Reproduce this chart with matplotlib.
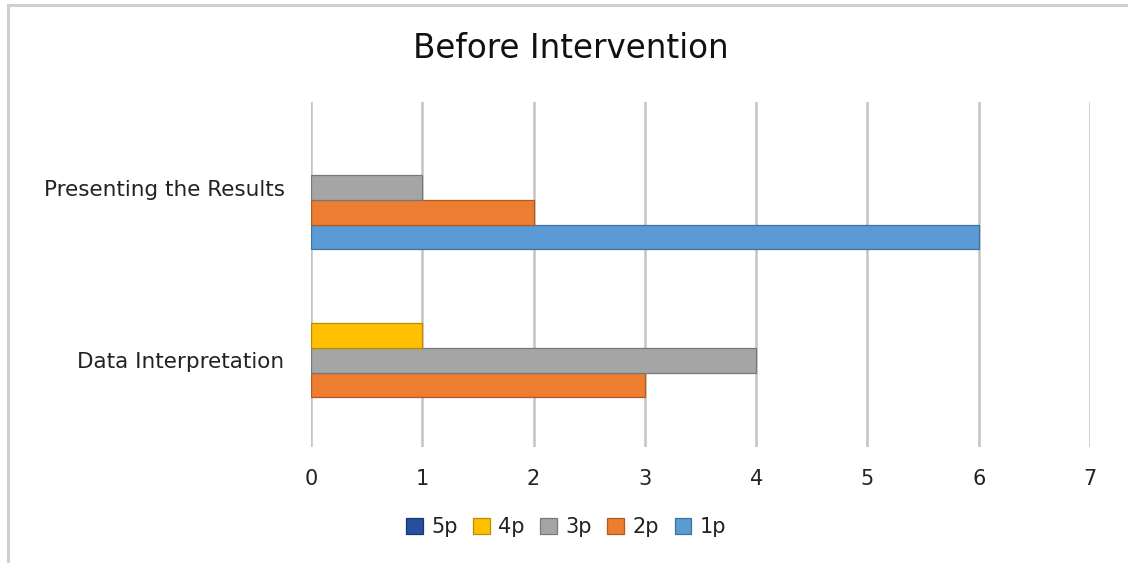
import matplotlib
matplotlib.use("Agg")
import matplotlib.pyplot as plt
from matplotlib.patches import Rectangle, Patch
import numpy as np

categories = ["Data Interpretation", "Presenting the Results"]
series_names = ["1p", "2p", "3p", "4p", "5p"]
values_1p = [0, 6]
values_2p = [3, 2]
values_3p = [4, 1]
values_4p = [1, 0]
values_5p = [0, 0]
x_ticks = [0, 1, 2, 3, 4, 5, 6, 7]

series_values = [values_1p, values_2p, values_3p, values_4p, values_5p]
fills = ["#5B9BD5", "#ED7D31", "#A5A5A5", "#FFC000", "#264FA0"]
edges = ["#41719C", "#AE5A21", "#787878", "#BC8C00", "#1A3670"]

plt.rcParams["font.family"] = ["DejaVu Sans"]

fig = plt.figure(figsize=(11.28, 5.63), dpi=100)
fig.patches.append(Rectangle((8 / 1128, -0.05), 1.2, 1 - 5 / 563 + 0.05,
                             transform=fig.transFigure, fill=False,
                             edgecolor="#D0D0D0", linewidth=2.2))

ax = fig.add_axes([311 / 1128, 1 - 446.5 / 563, (1090 - 311) / 1128, 345 / 563])

y = np.arange(len(categories))
h = 0.143
for i, (name, vals) in enumerate(zip(series_names, series_values)):
    widths = [0.9 if v > 0 else 0 for v in vals]
    ax.barh(y + (i - 2) * h, vals, height=h, color=fills[i],
            edgecolor=edges[i], linewidth=widths, zorder=3)

ax.set_xlim(0, 7)
ax.set_ylim(-0.5, 1.5)
ax.set_xticks(x_ticks)
ax.set_yticks(y)
ax.set_yticklabels(categories)
ax.grid(axis="x", color="#C4C4C4", linewidth=1.8, zorder=0)
ax.grid(axis="y", visible=False)
for s in ax.spines.values():
    s.set_visible(False)
ax.tick_params(axis="x", length=0, labelsize=15, colors="#222222", pad=16)
ax.tick_params(axis="y", length=0, labelsize=15.5, colors="#222222", pad=19)

fig.text(571 / 1128, 1 - 48 / 563, "Before Intervention", ha="center",
         va="center", fontsize=23.5, color="#111111")

handles = [Patch(facecolor=fills[i], edgecolor=edges[i], linewidth=0.9,
                 label=series_names[i]) for i in range(len(series_names))]
fig.legend(handles=handles[::-1], ncol=5, loc="center",
           bbox_to_anchor=(566 / 1128, 1 - 527 / 563), frameon=False,
           fontsize=15, handlelength=0.8, handleheight=0.8,
           handletextpad=0.4, columnspacing=0.75, labelcolor="#222222")

fig.savefig("out.png", dpi=100)
